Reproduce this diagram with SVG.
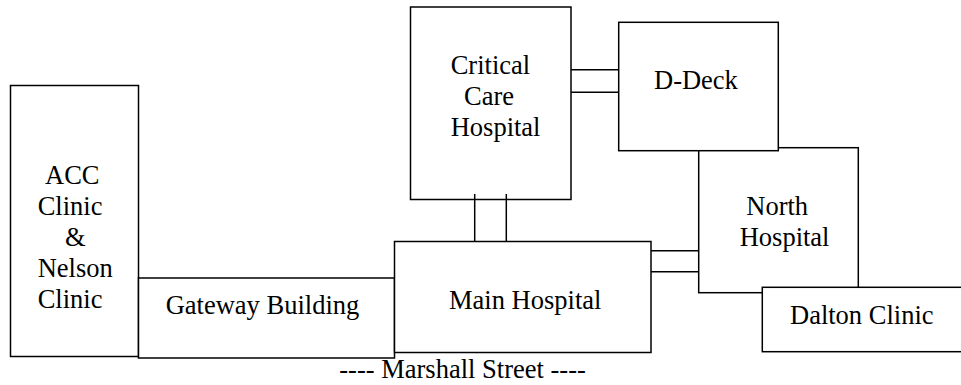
<svg xmlns="http://www.w3.org/2000/svg" width="961" height="385" viewBox="0 0 961 385">
<style>
.b{fill:#fff;stroke:#000;stroke-width:1.5}
.c{stroke:#000;stroke-width:1.5;fill:none}
text{font-family:"Liberation Serif","Times New Roman",serif;font-size:26.5px;fill:#000}
</style>
<rect width="961" height="385" fill="#fff"/>
<g id="acc"><rect class="b" x="10.5" y="85.5" width="128" height="271"/>
<text x="45" y="184">ACC</text><text x="37.7" y="214.5">Clinic</text><text x="65" y="245.5">&amp;</text><text x="37.7" y="276.5">Nelson</text><text x="37.7" y="307.5">Clinic</text></g>
<g id="gateway"><rect class="b" x="138.5" y="278" width="256" height="80"/>
<text x="165.7" y="313.5">Gateway Building</text></g>
<g id="main"><rect class="b" x="394.5" y="241.5" width="256.5" height="111"/>
<text x="449" y="308.5">Main Hospital</text></g>
<g id="critical"><rect class="b" x="410.5" y="7" width="160.5" height="192.5"/>
<text x="450.7" y="73.5">Critical</text><text x="464" y="105">Care</text><text x="450.7" y="136">Hospital</text></g>
<g id="north"><rect class="b" x="698.7" y="147.7" width="159.6" height="145"/>
<text x="746.3" y="214.5">North</text><text x="739.7" y="245.5">Hospital</text></g>
<g id="ddeck"><rect class="b" x="618.7" y="22.3" width="159.6" height="128.4"/>
<text x="654" y="89.3">D-Deck</text></g>
<g id="dalton"><rect class="b" x="762.3" y="287.3" width="220" height="64.4"/>
<text x="790" y="323.5">Dalton Clinic</text></g>
<g id="connectors">
<line class="c" x1="474.7" y1="194" x2="474.7" y2="241.5"/>
<line class="c" x1="506.3" y1="194" x2="506.3" y2="241.5"/>
<line class="c" x1="571" y1="69.7" x2="618.7" y2="69.7"/>
<line class="c" x1="571" y1="92.3" x2="618.7" y2="92.3"/>
<line class="c" x1="651" y1="250.7" x2="698.7" y2="250.7"/>
<line class="c" x1="651" y1="271.7" x2="698.7" y2="271.7"/>
</g>
<text x="339.3" y="378.3">---- Marshall Street ----</text>
</svg>
